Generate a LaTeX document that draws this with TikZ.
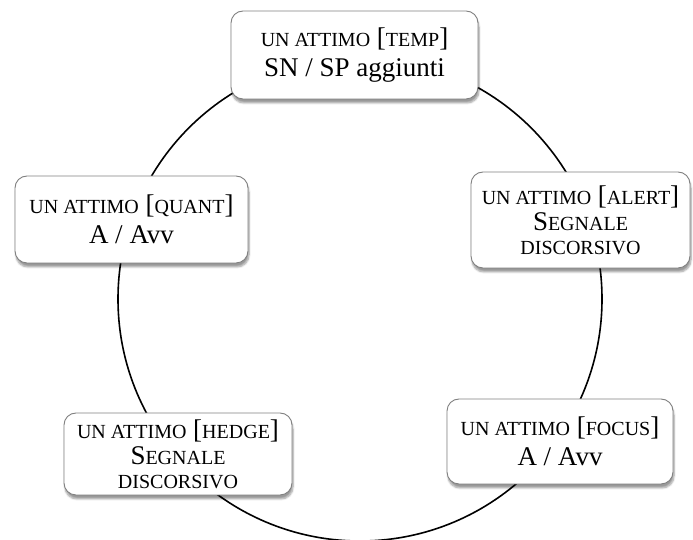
\documentclass[tikz,border=0pt]{standalone}
\usepackage{fontspec}
\setmainfont{Liberation Serif}
\usetikzlibrary{shadows.blur}
\newcommand\mysc[1]{{\fontsize{20}{24}\selectfont #1}}
\tikzset{
  box/.style={draw=black!50, line width=0.9pt, fill=white, rounded corners=12pt,
    align=center, inner sep=0pt, font=\fontsize{27}{30}\selectfont,
    blur shadow={shadow xshift=1pt, shadow yshift=-4pt, shadow blur steps=6, shadow opacity=40}},
  ring/.style={draw=black, line width=1.6pt}
}
\begin{document}
\begin{tikzpicture}[x=1pt,y=1pt]
\useasboundingbox (0,0) rectangle (693,540);
\coordinate (c) at (360,241);
\draw[ring] (c) circle[radius=242];
\node[box, minimum width=247, minimum height=88] (temp) at (354.5,485)
  {\mysc{UN ATTIMO} [\mysc{TEMP}]\\ SN / SP aggiunti};
\node[box, minimum width=233, minimum height=87] (quant) at (131.5,320.5)
  {\mysc{UN ATTIMO} [\mysc{QUANT}]\\ A / Avv};
\node[box, minimum width=219, minimum height=96] (alert) at (580.5,320)
  {\mysc{UN ATTIMO} [\mysc{ALERT}]\\[-4pt] S\mysc{EGNALE}\\[-6pt] \mysc{DISCORSIVO}};
\node[box, minimum width=228, minimum height=82] (hedge) at (178,86)
  {\mysc{UN ATTIMO} [\mysc{HEDGE}]\\[-4pt] S\mysc{EGNALE}\\[-6pt] \mysc{DISCORSIVO}};
\node[box, minimum width=226, minimum height=85] (focus) at (560,98.5)
  {\mysc{UN ATTIMO} [\mysc{FOCUS}]\\ A / Avv};
\end{tikzpicture}
\end{document}
